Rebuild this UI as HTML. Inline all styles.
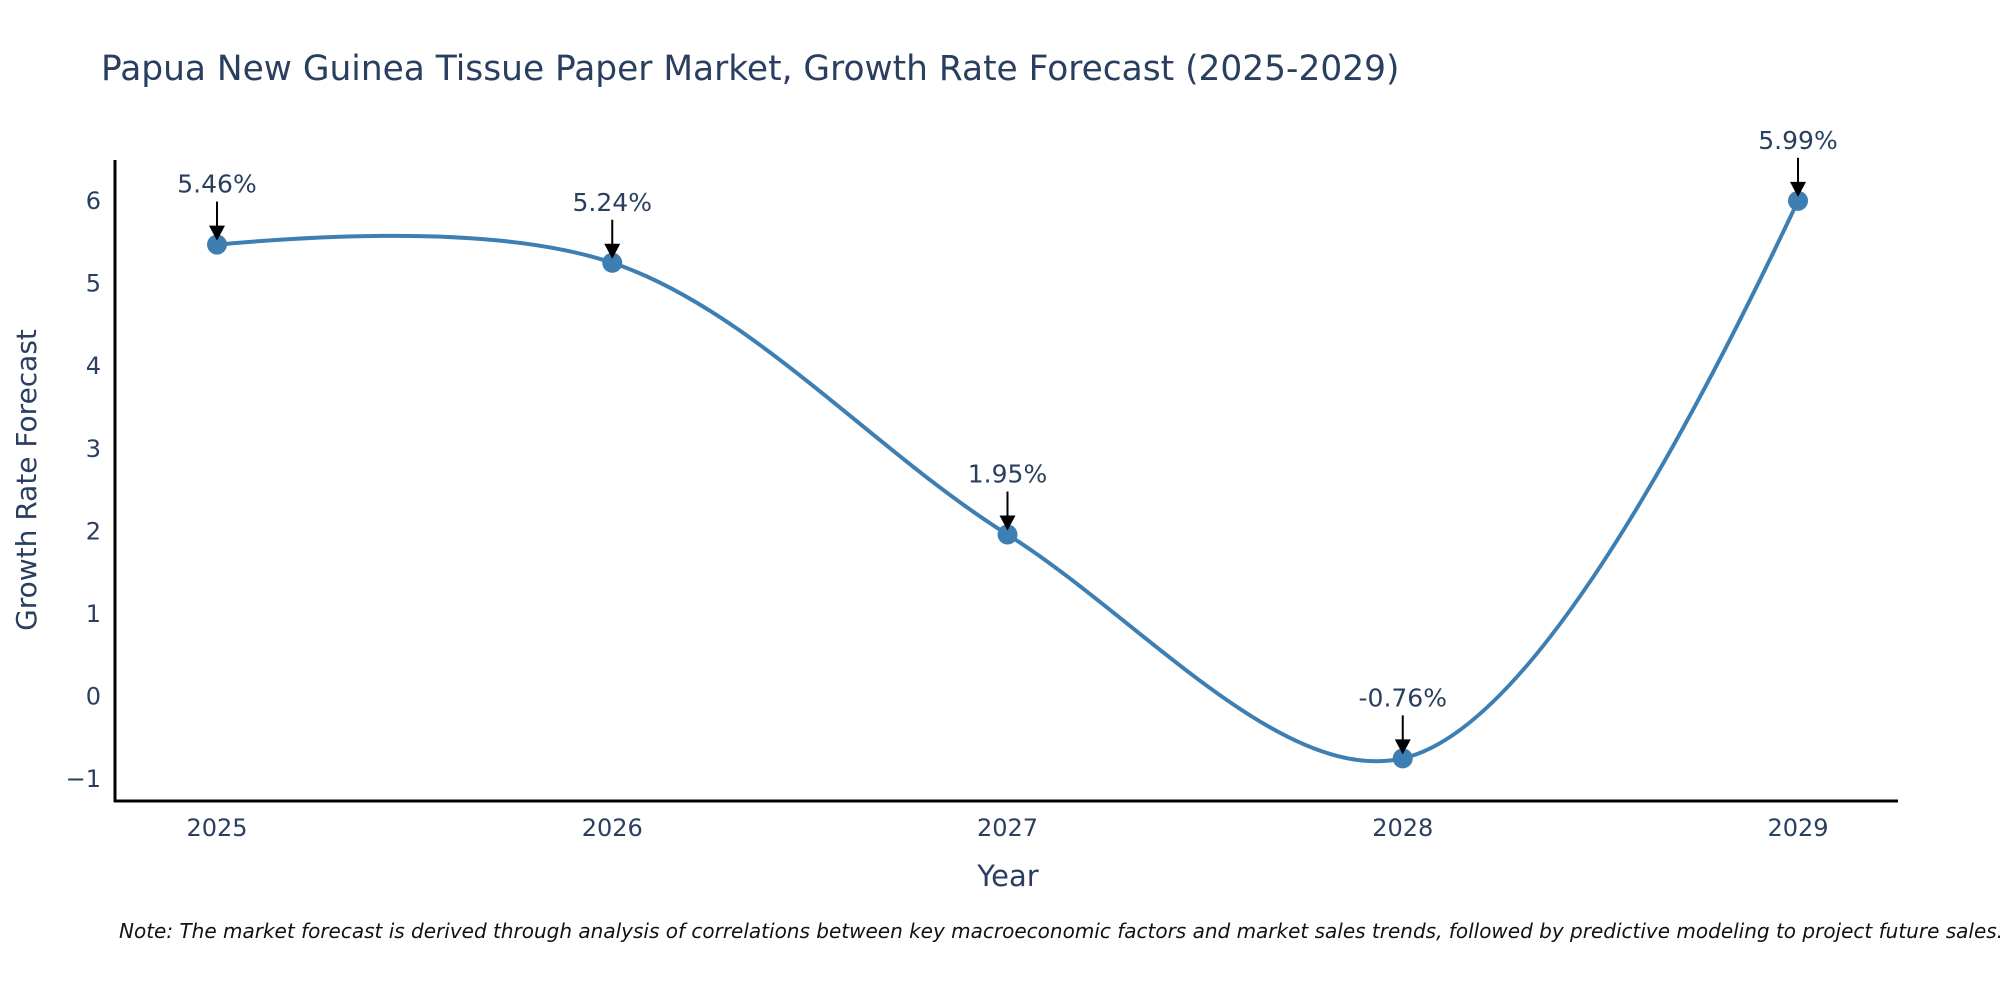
<!DOCTYPE html>
<html><head><meta charset="utf-8"><style>
html,body{margin:0;padding:0;background:#fff;width:2000px;height:1000px;overflow:hidden}
svg text{font-family:"DejaVu Sans","Liberation Sans",sans-serif;fill:#2a3f5f}
</style></head><body>
<svg id="chart" width="2000" height="1000" viewBox="0 0 2000 1000" xmlns="http://www.w3.org/2000/svg">
<text x="101" y="80" font-size="34.4">Papua New Guinea Tissue Paper Market, Growth Rate Forecast (2025-2029)</text>
<g id="yticks"></g>
<g id="xticks"></g>
<line x1="115" y1="160" x2="115" y2="802" stroke="#000" stroke-width="3"/>
<line x1="114" y1="801" x2="1898" y2="801" stroke="#000" stroke-width="3"/>
<text transform="translate(36,480) rotate(-90)" text-anchor="middle" font-size="28">Growth Rate Forecast</text>
<text x="1008" y="886" text-anchor="middle" font-size="29">Year</text>
<path id="line" fill="none" stroke="#3d7fb2" stroke-width="4"/>
<g id="points"></g>
<g id="ann"></g>
<text x="119" y="938" font-size="20" font-style="italic" style="fill:#111">Note: The market forecast is derived through analysis of correlations between key macroeconomic factors and market sales trends, followed by predictive modeling to project future sales.</text>
</svg>
<script>
const years=["2025","2026","2027","2028","2029"];
const values=[5.46,5.24,1.95,-0.76,5.99];
const labels=["5.46%","5.24%","1.95%","-0.76%","5.99%"];
const yTicks=[-1,0,1,2,3,4,5,6];
const yTickLabels=["\u22121","0","1","2","3","4","5","6"];
const NS="http://www.w3.org/2000/svg";
function xs(i){return 217+i*(1798-217)/(years.length-1);}
function ys(v){return 695.6-v*82.6;}
function mk(t,a,p){const e=document.createElementNS(NS,t);for(const k in a)e.setAttribute(k,a[k]);p.appendChild(e);return e;}
const yt=document.getElementById('yticks');
yTicks.forEach((v,i)=>{const t=mk('text',{x:101,y:ys(v)+9,'text-anchor':'end','font-size':24},yt);t.textContent=yTickLabels[i];

});
const xt=document.getElementById('xticks');
years.forEach((y,i)=>{const t=mk('text',{x:xs(i),y:836,'text-anchor':'middle','font-size':24},xt);t.textContent=y;

});
const pts=values.map((v,i)=>[xs(i),ys(v)]);
function tang(p0,p1,p2,s){const d1x=p0[0]-p1[0],d1y=p0[1]-p1[1],d2x=p2[0]-p1[0],d2y=p2[1]-p1[1];
const d1a=Math.pow(d1x*d1x+d1y*d1y,0.25),d2a=Math.pow(d2x*d2x+d2y*d2y,0.25);
const nx=(d2a*d2a*d1x-d1a*d1a*d2x)*s,ny=(d2a*d2a*d1y-d1a*d1a*d2y)*s;
const a=3*d2a*(d1a+d2a),b=3*d1a*(d1a+d2a);
return [[p1[0]+nx/a,p1[1]+ny/a],[p1[0]-nx/b,p1[1]-ny/b]];}
const tg=[];for(let i=1;i<pts.length-1;i++)tg.push(tang(pts[i-1],pts[i],pts[i+1],1));
const P=p=>p[0].toFixed(2)+','+p[1].toFixed(2);
let d='M'+P(pts[0])+'Q'+P(tg[0][0])+' '+P(pts[1]);
for(let i=2;i<pts.length-1;i++)d+='C'+P(tg[i-2][1])+' '+P(tg[i-1][0])+' '+P(pts[i]);
d+='Q'+P(tg[pts.length-3][1])+' '+P(pts[pts.length-1]);
document.getElementById('line').setAttribute('d',d);
const pg=document.getElementById('points'),ag=document.getElementById('ann');
pts.forEach((p,i)=>{const c=mk('circle',{cx:p[0],cy:p[1],r:10,fill:'#3d7fb2'},pg);


const g=mk('g',{},ag);


mk('line',{x1:p[0],y1:p[1]-43,x2:p[0],y2:p[1]-14,stroke:'#000','stroke-width':2},g);
mk('path',{d:`M${p[0]-8},${p[1]-19}L${p[0]+8},${p[1]-19}L${p[0]},${p[1]-4}Z`,fill:'#000'},g);
const t=mk('text',{x:p[0],y:p[1]-52,'text-anchor':'middle','font-size':25},g);t.textContent=labels[i];});
</script>
</body></html>
